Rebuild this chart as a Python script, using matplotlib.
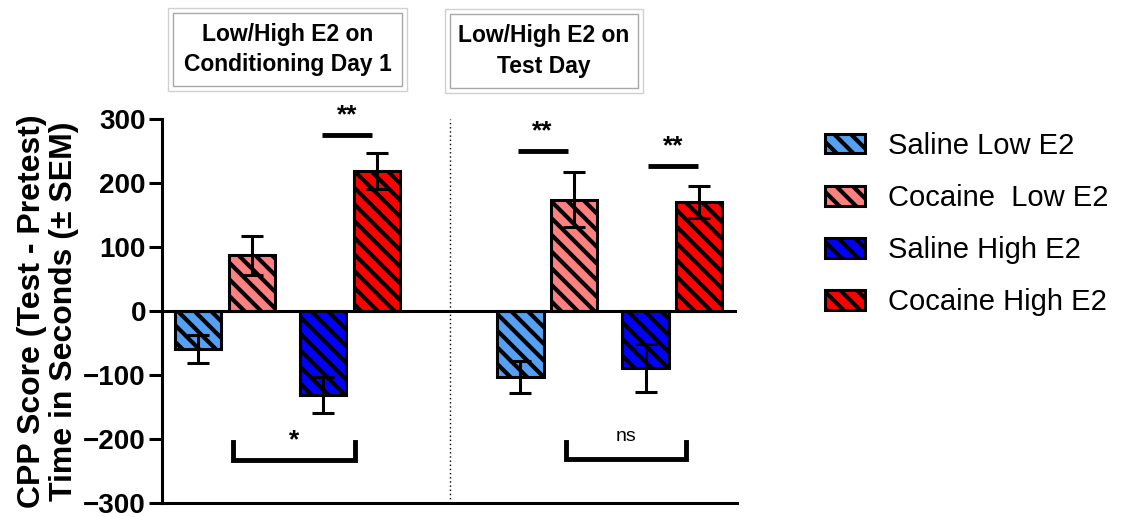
import matplotlib.pyplot as plt
import matplotlib.patches as patches
import numpy as np

plt.rcParams['font.family'] = ['Liberation Sans', 'DejaVu Sans']
plt.rcParams['hatch.linewidth'] = 3.0
plt.rcParams['hatch.color'] = 'black'

# datos
grupos = ['Low/High E2 on\nConditioning Day 1', 'Low/High E2 on\nTest Day']
series = ['Saline Low E2', 'Cocaine  Low E2', 'Saline High E2', 'Cocaine High E2']
colores = ['#55a0f2', '#ff8080', '#0000ff', '#ff0000']
valores = {
    'Saline Low E2':   [-59, -103],
    'Cocaine  Low E2': [87, 174],
    'Saline High E2':  [-131, -89],
    'Cocaine High E2': [219, 171],
}
sem = {
    'Saline Low E2':   [22, 25],
    'Cocaine  Low E2': [30, 43],
    'Saline High E2':  [28, 37],
    'Cocaine High E2': [28, 25],
}

# posiciones de las barras dentro de cada grupo
offsets = [0, 1, 2.33, 3.33]
inicio_grupo = [0, 6]
ancho = 0.86

# significancia: (x1, x2, y, texto)
barras_sig = [(2.31, 3.24, 275, '**'), (5.95, 6.88, 250, '**'), (8.37, 9.30, 226, '**')]
corchetes = [(0.65, 2.92, -233, -204, '*'), (6.85, 9.08, -232, -204, 'ns')]

fig = plt.figure(figsize=(11.31, 5.17), dpi=100)
ax = fig.add_axes([0.1432, 0.0271, 0.5084, 0.7427])

for i, s in enumerate(series):
    xs = [g + offsets[i] for g in inicio_grupo]
    ax.bar(xs, valores[s], width=ancho, color=colores[i], edgecolor='black',
           linewidth=2.2, hatch='\\\\', label=s, zorder=2)
    ax.errorbar(xs, valores[s], yerr=sem[s], fmt='none', ecolor='black',
                elinewidth=2.2, capsize=8, capthick=2.2, zorder=3)

ax.axhline(0, color='black', linewidth=2.2, zorder=4)
ax.axvline(4.69, color='black', linewidth=1, linestyle=(0, (1, 2)), zorder=1)

for x1, x2, y, txt in barras_sig:
    ax.plot([x1, x2], [y, y], color='black', linewidth=3.5, solid_capstyle='butt', clip_on=False)
    ax.text((x1 + x2) / 2, y + 12, txt, ha='center', va='bottom', fontsize=19,
            fontweight='bold', clip_on=False)

for x1, x2, yb, yt, txt in corchetes:
    ax.plot([x1, x1, x2, x2], [yt, yb, yb, yt], color='black', linewidth=3.5,
            solid_joinstyle='miter', clip_on=False)
    if txt == '*':
        ax.text((x1 + x2) / 2, yt + 2, txt, ha='center', va='center', fontsize=19,
                fontweight='bold')
    else:
        ax.text((x1 + x2) / 2, yt + 8, txt, ha='center', va='center', fontsize=14)

ax.set_xlim(-0.67, 10.03)
ax.set_ylim(-300, 300)
ax.set_yticks(np.arange(-300, 301, 100))
ax.set_xticks([])
ax.tick_params(axis='y', length=9.5, width=2.2, pad=2, labelsize=20)
for lab in ax.get_yticklabels():
    lab.set_fontweight('bold')
ax.spines['top'].set_visible(False)
ax.spines['right'].set_visible(False)
ax.spines['left'].set_linewidth(2.2)
ax.spines['bottom'].set_linewidth(2.2)
ax.set_ylabel('CPP Score (Test - Pretest)\nTime in Seconds (± SEM)', fontsize=23,
              fontweight='bold', linespacing=1.1, labelpad=3)

# cajas de encabezado
cajas = [(168, 8, 407, 91), (445, 9, 643, 93)]
W, H = 1131, 517
for (x0, y0, x1, y1), titulo in zip(cajas, grupos):
    fig.patches.append(patches.Rectangle((x0 / W, 1 - y1 / H), (x1 - x0) / W, (y1 - y0) / H,
                                         transform=fig.transFigure, fill=False,
                                         edgecolor='#d0d0d0', linewidth=1))
    fig.patches.append(patches.Rectangle(((x0 + 5) / W, 1 - (y1 - 5) / H), (x1 - x0 - 10) / W,
                                         (y1 - y0 - 10) / H, transform=fig.transFigure,
                                         fill=False, edgecolor='#a8a8a8', linewidth=1))
    fig.text((x0 + x1) / 2 / W, 1 - (y0 + y1) / 2 / H, titulo, ha='center', va='center',
             fontsize=16.5, fontweight='bold', linespacing=1.4)

fig.legend(loc='center left', bbox_to_anchor=(825 / W, 1 - 224 / H), frameon=False,
           fontsize=21, handlelength=1.37, handleheight=0.67, handletextpad=0.8,
           labelspacing=0.83, borderpad=0, borderaxespad=0)

fig.savefig('out.png', dpi=100)
